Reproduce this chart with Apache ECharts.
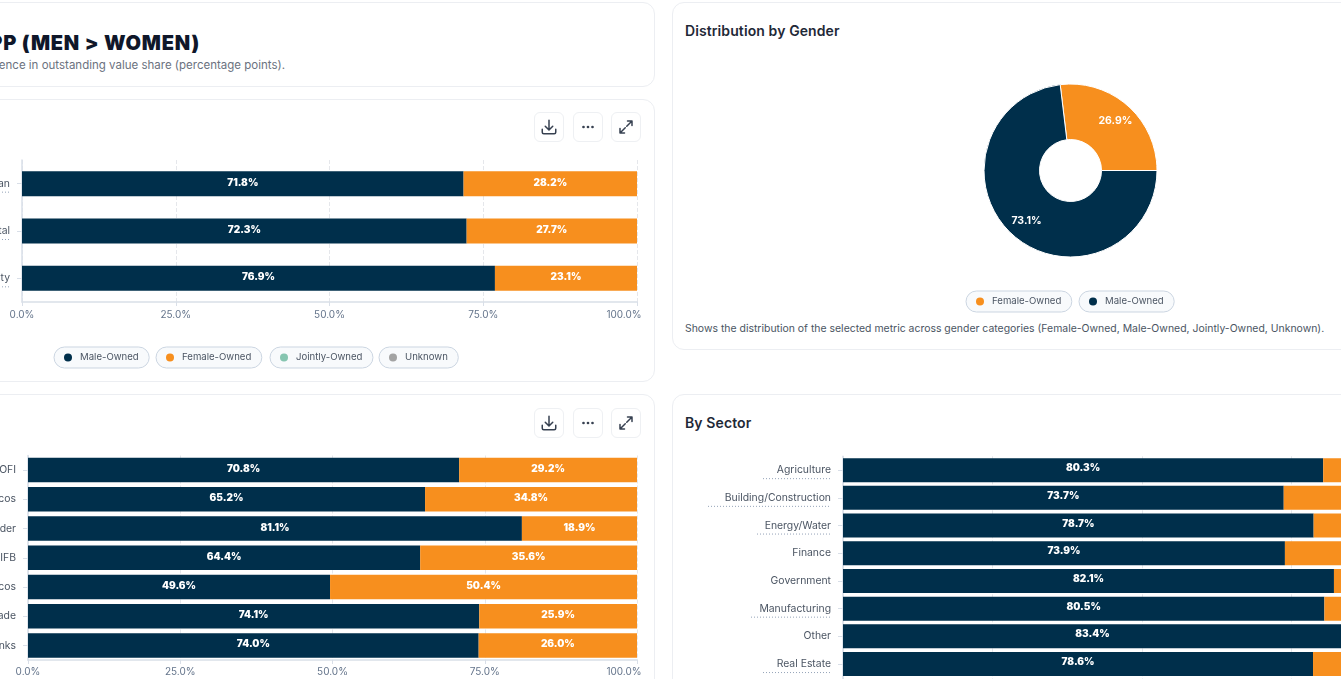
<!DOCTYPE html>
<html><head><meta charset="utf-8">
<script src="https://cdn.jsdelivr.net/npm/echarts@6/dist/echarts.min.js"></script>
<style>
html,body{margin:0;padding:0;background:#fff;width:1341px;height:679px;overflow:hidden;font-family:Inter,"Noto Sans",sans-serif}
.card{position:absolute;background:#fff;border:1px solid #eceef2;border-radius:12px;box-sizing:border-box}
.t{position:absolute;white-space:nowrap}
.btn{position:absolute;width:30px;height:30px;box-sizing:border-box;border:1px solid #eef0f3;border-radius:6px;background:#fff;display:flex;align-items:center;justify-content:center}
#c{position:absolute;left:0;top:0;width:1341px;height:679px}
</style></head><body>
<div class="card" style="left:-40px;top:2px;width:695px;height:85px"></div>
<div class="card" style="left:-40px;top:99px;width:695px;height:283px"></div>
<div class="card" style="left:-40px;top:394px;width:695px;height:340px"></div>
<div class="card" style="left:672px;top:2px;width:720px;height:348px"></div>
<div class="card" style="left:672px;top:394px;width:720px;height:340px"></div>
<div class="t" style="right:1141px;top:31px;font-size:20px;font-weight:900;letter-spacing:.75px;color:#0f172a">GENDER GAPP (MEN &gt; WOMEN)</div>
<div class="t" style="right:1056px;top:58px;font-size:11.5px;color:#6b7280">Difference in outstanding value share (percentage points).</div>
<div class="t" style="left:685px;top:22px;font-size:14px;font-weight:600;letter-spacing:.1px;color:#1f2937">Distribution by Gender</div>
<div class="t" style="left:685px;top:414px;font-size:14px;font-weight:600;letter-spacing:.1px;color:#1f2937">By Sector</div>
<div class="t" style="left:685px;top:322px;font-size:10.45px;color:#4b5563">Shows the distribution of the selected metric across gender categories (Female-Owned, Male-Owned, Jointly-Owned, Unknown).</div>
<div id="btns"></div>
<div id="c"></div>
<script>
const mixCategories = ["Term Loan", "Working Capital", "Quasi-Equity"];
const mixMale = [71.8, 72.3, 76.9];
const mixFemale = [28.2, 27.7, 23.1];
const lenderCategories = ["NBFI/OFI", "Mobile Telcos", "Digital Lender", "MIFB", "Other Telcos", "Trade", "Banks"];
const lenderMale = [70.8, 65.2, 81.1, 64.4, 49.6, 74.1, 74.0];
const lenderFemale = [29.2, 34.8, 18.9, 35.6, 50.4, 25.9, 26.0];
const sectorCategories = ["Agriculture", "Building/Construction", "Energy/Water", "Finance", "Government", "Manufacturing", "Other", "Real Estate", "Services"];
const sectorMale = [80.3, 73.7, 78.7, 73.9, 82.1, 80.5, 83.4, 78.6, 78.7];
const sectorFemale = [19.7, 26.3, 21.3, 26.1, 17.9, 19.5, 16.6, 21.4, 21.3];
const genderNames = ["Female-Owned", "Male-Owned"];
const genderShares = [26.9, 73.1];

const NAVY = "#002f4b", ORANGE = "#f78f1e", TEAL = "#86c5b0", GREY = "#a3a3a3";
const icons = [
 '<svg width="18" height="18" viewBox="0 0 24 24" fill="none" stroke="#374151" stroke-width="2" stroke-linecap="round" stroke-linejoin="round"><path d="M12 3v12M7 11l5 5 5-5M3 15v4a2 2 0 0 0 2 2h14a2 2 0 0 0 2-2v-4"/></svg>',
 '<svg width="18" height="18" viewBox="0 0 24 24" fill="#374151"><circle cx="6" cy="12" r="1.8"/><circle cx="12" cy="12" r="1.8"/><circle cx="18" cy="12" r="1.8"/></svg>',
 '<svg width="18" height="18" viewBox="0 0 24 24" fill="none" stroke="#374151" stroke-width="2" stroke-linecap="round" stroke-linejoin="round"><path d="M14 4h6v6M20 4l-7 7M10 20H4v-6M4 20l7-7"/></svg>'];
let h = "";
[112, 408].forEach(y => [534, 573, 611].forEach((x, i) => { h += `<div class="btn" style="left:${x}px;top:${y}px">${icons[i]}</div>`; }));
document.getElementById("btns").innerHTML = h;

const grids = [
  {left: 22, width: 615, top: 160, height: 142},
  {left: 28, width: 609, top: 455.5, height: 204.5},
  {left: 843, width: 598, top: 456.3, height: 249.3}
];
const cats = [mixCategories, lenderCategories, sectorCategories];
const males = [mixMale, lenderMale, sectorMale];
const females = [mixFemale, lenderFemale, sectorFemale];
const barW = [25, 24.5, 24];
const labelDy = [-1, -1, -2];
const tickMargin = [8, 7, 7];

function pct(v){ return v.toFixed(1) + "%"; }
function barSeries(name, data, idx, color, withLabel){
  return {
    type: "bar", name, data, stack: "s" + idx, xAxisIndex: idx, yAxisIndex: idx,
    barWidth: barW[idx], itemStyle: {color}, silent: true,
    label: withLabel ? {show: true, position: "inside", offset: [0, labelDy[idx]], color: "#fff", fontFamily: "Inter", fontSize: 10, fontWeight: 900,
      formatter: p => pct(p.value)} : {show: false}
  };
}
const series = [];
for (let i = 0; i < 3; i++) {
  series.push(barSeries("Male-Owned", males[i], i, NAVY, true));
  series.push(barSeries("Female-Owned", females[i], i, ORANGE, true));
}
series.push(barSeries("Jointly-Owned", [], 0, TEAL, false));
series.push(barSeries("Unknown", [], 0, GREY, false));
series.push({
  type: "pie", center: [1070.5, 170.5], radius: [31, 86.5], startAngle: 96.84, silent: true,
  itemStyle: {borderColor: "#fff", borderWidth: 1},
  label: {position: "inside", color: "#fff", fontFamily: "Inter", fontSize: 10.5, fontWeight: 700, formatter: p => pct(p.value)},
  labelLine: {show: false},
  data: genderNames.map((n, i) => ({name: n, value: genderShares[i],
    itemStyle: {color: n === "Female-Owned" ? ORANGE : NAVY},
    label: {offset: n === "Female-Owned" ? [4, -3] : [-3, 4]}}))
});
function pill(name, left, top, color){
  return {show: true, data: [{name, icon: "circle", itemStyle: {color}}], left, top, orient: "horizontal", selectedMode: false,
    itemWidth: 8, itemHeight: 8, itemGap: 0, padding: [5.5, 10.5, 5.5, 10], backgroundColor: "#f8fafc", borderColor: "#cbd5e1", borderWidth: 1, borderRadius: 11,
    textStyle: {color: "#4b5563", fontFamily: "Inter", fontSize: 9.6, padding: [0, 0, 0, 3]}};
}
const el = document.getElementById("c");
const chart = echarts.init(el, null, {renderer: "canvas"});
chart.setOption({
  animation: false, backgroundColor: "transparent",
  grid: grids.map(g => ({...g, containLabel: false, outerBoundsMode: "none"})),
  xAxis: grids.map((g, i) => ({
    type: "value", gridIndex: i, min: 0, max: 100, interval: 25,
    axisLine: {show: true, lineStyle: {color: "#d9dfe8", width: 1.5}},
    axisTick: {show: true, length: 4, lineStyle: {color: "#d9dfe8"}},
    axisLabel: {color: "#64748b", fontFamily: "Inter", fontSize: 10, margin: tickMargin[i],
      formatter: v => v === 100 ? "{m|" + pct(v) + "}" : pct(v),
      rich: {m: {color: "#64748b", fontFamily: "Inter", fontSize: 10, padding: [0, 26, 0, 0]}}},
    splitLine: {show: true, lineStyle: {color: "#e5e7eb", type: "dashed"}}
  })),
  yAxis: grids.map((g, i) => ({
    type: "category", gridIndex: i, inverse: true, data: cats[i],
    axisLine: {show: true, lineStyle: {color: "#d9dfe8", width: 1.5}},
    axisTick: {show: true, alignWithLabel: true, length: 5, lineStyle: {color: "#d9dfe8"}},
    axisLabel: {color: "#4b5563", fontFamily: "Inter", fontSize: 10.4, margin: 12, interval: 0},
    splitLine: {show: false}
  })),
  legend: [
    pill("Male-Owned", 54, 347, NAVY), pill("Female-Owned", 156, 347, ORANGE),
    pill("Jointly-Owned", 270, 347, TEAL), pill("Unknown", 379, 347, GREY),
    pill("Female-Owned", 966, 291, ORANGE), pill("Male-Owned", 1079, 291, NAVY)
  ],
  series
});
// dotted underline below the category labels that carry a hint
const underlined = [
  {axis: 0, cats: ["Term Loan", "Working Capital", "Quasi-Equity"], from: -40, to: 10},
  {axis: 2, cats: ["Agriculture"], from: 763, to: 830},
  {axis: 2, cats: ["Building/Construction"], from: 708, to: 830},
  {axis: 2, cats: ["Energy/Water"], from: 757, to: 830},
  {axis: 2, cats: ["Manufacturing"], from: 751, to: 830},
  {axis: 2, cats: ["Real Estate"], from: 763, to: 830}
];
const lines = [];
underlined.forEach(u => u.cats.forEach(c => {
  const y = chart.convertToPixel({yAxisIndex: u.axis}, c) + 8.5;
  lines.push({type: "line", shape: {x1: u.from, y1: y, x2: u.to, y2: y}, silent: true,
    style: {stroke: "#94a3b8", lineWidth: 1, lineDash: [1, 2]}});
}));
chart.setOption({graphic: lines});
</script></body></html>
